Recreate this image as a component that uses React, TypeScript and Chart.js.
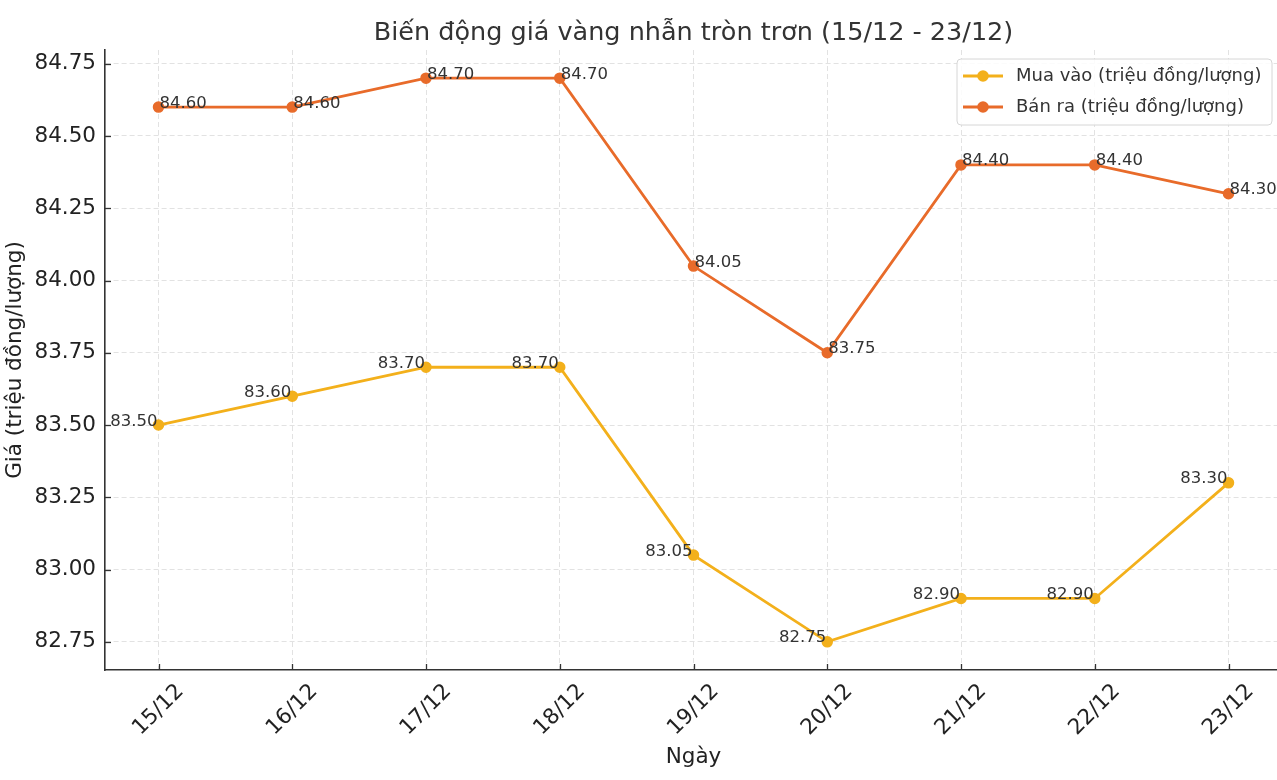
import React, { useEffect, useRef } from "react";
import { Chart, registerables } from "chart.js";

Chart.register(...registerables);

const days = ["15/12", "16/12", "17/12", "18/12", "19/12", "20/12", "21/12", "22/12", "23/12"];
const buyPrices = [83.5, 83.6, 83.7, 83.7, 83.05, 82.75, 82.9, 82.9, 83.3];
const sellPrices = [84.6, 84.6, 84.7, 84.7, 84.05, 83.75, 84.4, 84.4, 84.3];
const yTicks = [82.75, 83.0, 83.25, 83.5, 83.75, 84.0, 84.25, 84.5, 84.75];
const titleText = "Biến động giá vàng nhẫn tròn trơn (15/12 - 23/12)";
const buyLabel = "Mua vào (triệu đồng/lượng)";
const sellLabel = "Bán ra (triệu đồng/lượng)";
const xTitle = "Ngày";
const yTitle = "Giá (triệu đồng/lượng)";

const BUY_COLOR = "#f3b01b";
const SELL_COLOR = "#e86b2a";
const FONT = "'DejaVu Sans', sans-serif";

const allVals = [...buyPrices, ...sellPrices];
const dMin = Math.min(...allVals);
const dMax = Math.max(...allVals);
const yMargin = (dMax - dMin) * 0.05;

const overlay = {
  id: "overlay",
  beforeDatasetsDraw(chart: any) {
    const { ctx, chartArea, scales } = chart;
    const xs = scales.x;
    const ys = scales.y;
    ctx.save();
    ctx.strokeStyle = "#333";
    ctx.lineWidth = 1.3;
    days.forEach((_, i) => {
      const px = Math.round(xs.getPixelForValue(i)) + 0.5;
      ctx.beginPath();
      ctx.moveTo(px, chartArea.bottom);
      ctx.lineTo(px, chartArea.bottom - 6);
      ctx.stroke();
    });
    yTicks.forEach((v) => {
      const py = Math.round(ys.getPixelForValue(v)) + 0.5;
      ctx.beginPath();
      ctx.moveTo(chartArea.left, py);
      ctx.lineTo(chartArea.left + 6, py);
      ctx.stroke();
    });
    ctx.restore();
  },
  afterDraw(chart: any) {
    const { ctx, chartArea, scales } = chart;
    const xs = scales.x;
    const ys = scales.y;
    ctx.save();

    // Title
    ctx.fillStyle = "#333";
    ctx.font = `25.5px ${FONT}`;
    ctx.textAlign = "center";
    ctx.textBaseline = "alphabetic";
    ctx.fillText(titleText, (chartArea.left + chartArea.right) / 2, 40);

    // Y tick labels
    ctx.fillStyle = "#222";
    ctx.font = `21.5px ${FONT}`;
    ctx.textAlign = "right";
    ctx.textBaseline = "middle";
    yTicks.forEach((v) => {
      ctx.fillText(v.toFixed(2), chartArea.left - 9, ys.getPixelForValue(v));
    });

    // X tick labels rotated
    ctx.textAlign = "center";
    ctx.textBaseline = "middle";
    days.forEach((d, i) => {
      const px = xs.getPixelForValue(i);
      ctx.save();
      ctx.translate(px, chartArea.bottom + 40);
      ctx.rotate(-Math.PI / 4);
      ctx.fillText(d, 0, 0);
      ctx.restore();
    });

    // Axis titles
    ctx.fillStyle = "#222";
    ctx.font = `21.5px ${FONT}`;
    ctx.textAlign = "center";
    ctx.textBaseline = "alphabetic";
    ctx.fillText(xTitle, (chartArea.left + chartArea.right) / 2, 763);
    ctx.save();
    ctx.translate(15.5, (chartArea.top + chartArea.bottom) / 2);
    ctx.rotate(-Math.PI / 2);
    ctx.textBaseline = "middle";
    ctx.fillText(yTitle, 0, 0);
    ctx.restore();

    // Data labels
    ctx.font = `16.5px ${FONT}`;
    ctx.fillStyle = "#333";
    ctx.textBaseline = "alphabetic";
    sellPrices.forEach((v, i) => {
      ctx.textAlign = "left";
      ctx.fillText(v.toFixed(2), xs.getPixelForValue(i) + 1, ys.getPixelForValue(v) + 0.5);
    });
    buyPrices.forEach((v, i) => {
      ctx.textAlign = "right";
      ctx.fillText(v.toFixed(2), xs.getPixelForValue(i) - 1, ys.getPixelForValue(v) + 0.5);
    });

    // Legend
    const bx = 957, by = 59, bw = 315, bh = 66, r = 4;
    ctx.beginPath();
    ctx.moveTo(bx + r, by);
    ctx.lineTo(bx + bw - r, by);
    ctx.arcTo(bx + bw, by, bx + bw, by + r, r);
    ctx.lineTo(bx + bw, by + bh - r);
    ctx.arcTo(bx + bw, by + bh, bx + bw - r, by + bh, r);
    ctx.lineTo(bx + r, by + bh);
    ctx.arcTo(bx, by + bh, bx, by + bh - r, r);
    ctx.lineTo(bx, by + r);
    ctx.arcTo(bx, by, bx + r, by, r);
    ctx.closePath();
    ctx.fillStyle = "rgba(255,255,255,0.85)";
    ctx.fill();
    ctx.strokeStyle = "#d6d6d6";
    ctx.lineWidth = 1;
    ctx.stroke();

    const rows = [
      { label: buyLabel, color: BUY_COLOR, y: 76 },
      { label: sellLabel, color: SELL_COLOR, y: 107 },
    ];
    rows.forEach((row) => {
      ctx.strokeStyle = row.color;
      ctx.lineWidth = 2.8;
      ctx.beginPath();
      ctx.moveTo(963, row.y);
      ctx.lineTo(1003, row.y);
      ctx.stroke();
      ctx.fillStyle = row.color;
      ctx.beginPath();
      ctx.arc(983, row.y, 5.8, 0, Math.PI * 2);
      ctx.fill();
      ctx.fillStyle = "#333";
      ctx.font = `18px ${FONT}`;
      ctx.textAlign = "left";
      ctx.textBaseline = "middle";
      ctx.fillText(row.label, 1016, row.y);
    });

    ctx.restore();
  },
};

export default function App() {
  const canvasRef = useRef<HTMLCanvasElement | null>(null);

  useEffect(() => {
    const canvas = canvasRef.current;
    if (!canvas) return;
    const chart = new Chart(canvas, {
      type: "line",
      data: {
        datasets: [
          {
            label: buyLabel,
            data: buyPrices.map((v, i) => ({ x: i, y: v })),
            borderColor: BUY_COLOR,
            backgroundColor: BUY_COLOR,
            pointBackgroundColor: BUY_COLOR,
            pointBorderColor: BUY_COLOR,
            pointRadius: 5,
            pointBorderWidth: 1.5,
            borderWidth: 2.8,
            tension: 0,
          },
          {
            label: sellLabel,
            data: sellPrices.map((v, i) => ({ x: i, y: v })),
            borderColor: SELL_COLOR,
            backgroundColor: SELL_COLOR,
            pointBackgroundColor: SELL_COLOR,
            pointBorderColor: SELL_COLOR,
            pointRadius: 5,
            pointBorderWidth: 1.5,
            borderWidth: 2.8,
            tension: 0,
          },
        ],
      },
      options: {
        responsive: false,
        animation: false,
        devicePixelRatio: 1,
        layout: { autoPadding: false, padding: { top: 50, left: 0, right: 0, bottom: 0 } },
        plugins: {
          legend: { display: false },
          title: { display: false },
          tooltip: { enabled: false },
        },
        scales: {
          x: {
            type: "linear",
            min: -0.4,
            max: 8.4,
            afterBuildTicks: (s: any) => {
              s.ticks = days.map((_, i) => ({ value: i }));
            },
            afterFit: (s: any) => {
              s.height = 110;
            },
            ticks: { display: false },
            grid: { color: "#e2e2e2", lineWidth: 1, drawTicks: false },
            border: { display: true, color: "#333", width: 1.6, dash: [5, 3] },
          },
          y: {
            type: "linear",
            min: dMin - yMargin,
            max: dMax + yMargin,
            afterBuildTicks: (s: any) => {
              s.ticks = yTicks.map((v) => ({ value: v }));
            },
            afterFit: (s: any) => {
              s.width = 105;
            },
            ticks: { display: false },
            grid: { color: "#e2e2e2", lineWidth: 1, drawTicks: false },
            border: { display: true, color: "#333", width: 1.6, dash: [5, 3] },
          },
        },
      },
      plugins: [overlay],
    } as any);
    return () => chart.destroy();
  }, []);

  return (
    <div
      style={{
        position: "fixed",
        left: 0,
        top: 0,
        width: 1277,
        height: 780,
        overflow: "hidden",
        background: "#fff",
      }}
    >
      <canvas ref={canvasRef} width={1282} height={780} style={{ display: "block" }} />
    </div>
  );
}
